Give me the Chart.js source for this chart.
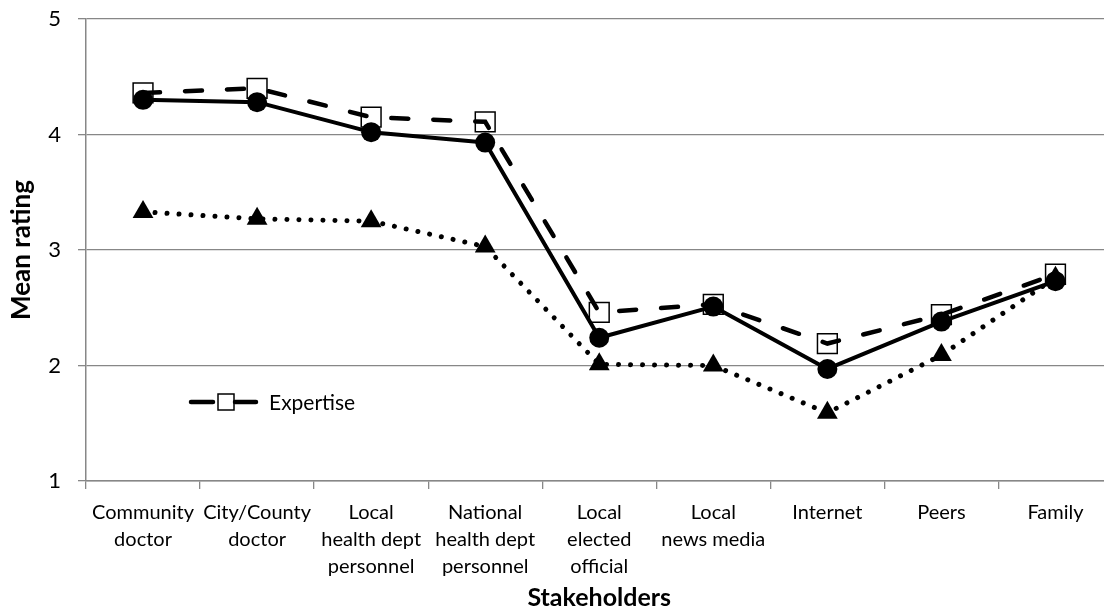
<!DOCTYPE html>
<html>
<head>
<meta charset="utf-8">
<script src="https://cdn.jsdelivr.net/npm/chart.js@4.4.0/dist/chart.umd.min.js"></script>
<style>
  html, body { margin: 0; padding: 0; background: #fff; overflow: hidden; }
  #wrap { position: relative; width: 1128px; height: 616px; }
</style>
</head>
<body>
<div id="wrap"><canvas id="chart"></canvas></div>
<script>
const stakeholders = [
  ['Community', 'doctor'],
  ['City/County', 'doctor'],
  ['Local', 'health dept', 'personnel'],
  ['National', 'health dept', 'personnel'],
  ['Local', 'elected', 'official'],
  ['Local', 'news media'],
  'Internet',
  'Peers',
  'Family'
];
const expertise = [4.36, 4.40, 4.15, 4.11, 2.46, 2.53, 2.19, 2.44, 2.79];
const trust = [4.30, 4.28, 4.02, 3.93, 2.24, 2.51, 1.97, 2.38, 2.73];
const influence = [3.33, 3.27, 3.25, 3.03, 2.01, 2.00, 1.59, 2.09, 2.76];

const FONT = 'Lato, "Open Sans", sans-serif';
const GRID = '#878787';

// legend drawn inside the plot, like the original
const insideLegend = {
  id: 'insideLegend',
  afterDatasetsDraw(chart) {
    const { ctx, chartArea } = chart;
    const x0 = chartArea.left + 105;
    const y0 = chartArea.top + 383;
    ctx.save();
    ctx.strokeStyle = '#000';
    ctx.lineWidth = 4.5;
    ctx.lineCap = 'round';
    ctx.beginPath();
    ctx.moveTo(x0, y0);
    ctx.lineTo(x0 + 22, y0);
    ctx.moveTo(x0 + 44, y0);
    ctx.lineTo(x0 + 65, y0);
    ctx.stroke();
    ctx.lineWidth = 1.5;
    ctx.strokeRect(x0 + 27, y0 - 8, 16, 16);
    ctx.fillStyle = '#000';
    ctx.font = '21px ' + FONT;
    ctx.textBaseline = 'middle';
    ctx.fillText('Expertise', x0 + 78, y0 + 1);
    ctx.restore();
  }
};

new Chart(document.getElementById('chart'), {
  type: 'line',
  data: {
    labels: stakeholders,
    datasets: [
      {
        label: 'Trust',
        data: trust,
        order: 0,
        borderColor: '#000',
        borderWidth: 4,
        borderJoinStyle: 'round',
        pointStyle: 'circle',
        pointRadius: 10,
        pointBackgroundColor: '#000',
        pointBorderColor: '#000',
        pointBorderWidth: 0,
        tension: 0
      },
      {
        label: 'Expertise',
        data: expertise,
        order: 1,
        borderColor: '#000',
        borderWidth: 4.5,
        borderDash: [17, 25],
        borderCapStyle: 'round',
        pointStyle: 'rect',
        pointRadius: 14,
        pointBackgroundColor: 'rgba(0,0,0,0)',
        pointBorderColor: '#000',
        pointBorderWidth: 1.5,
        tension: 0
      },
      {
        label: 'Influence',
        data: influence,
        order: 2,
        borderColor: '#000',
        borderWidth: 5,
        borderDash: [0.01, 12],
        borderCapStyle: 'round',
        pointStyle: 'triangle',
        pointRadius: 12,
        pointBackgroundColor: '#000',
        pointBorderColor: '#000',
        pointBorderWidth: 0,
        tension: 0
      }
    ]
  },
  options: {
    responsive: true,
    maintainAspectRatio: false,
    animation: false,
    layout: { padding: { top: 19, left: 0, right: 0, bottom: 0 } },
    plugins: {
      legend: { display: false },
      tooltip: { enabled: false }
    },
    scales: {
      x: {
        offset: true,
        afterFit: (scale) => { scale.height = 135; },
        grid: {
          offset: true,
          drawOnChartArea: false,
          drawTicks: true,
          tickLength: 8,
          color: GRID,
          lineWidth: 1.3
        },
        border: { color: GRID, width: 1.5 },
        ticks: {
          color: '#000',
          padding: 10,
          maxRotation: 0,
          autoSkip: false,
          font: { family: FONT, size: 20, lineHeight: 1.35 }
        },
        title: {
          display: true,
          text: 'Stakeholders',
          color: '#000',
          padding: { top: 0, bottom: 3 },
          font: { family: FONT, size: 25, weight: 'bold' }
        }
      },
      y: {
        min: 1,
        max: 5,
        afterFit: (scale) => {
          scale.width = 86;
          scale.paddingTop = 0;
          scale.paddingBottom = 0;
        },
        grid: {
          color: GRID,
          lineWidth: 1.3,
          tickLength: 8
        },
        border: { color: GRID, width: 1.5 },
        ticks: {
          stepSize: 1,
          color: '#000',
          padding: 17,
          font: { family: FONT, size: 22 }
        },
        title: {
          display: true,
          text: 'Mean rating',
          color: '#000',
          padding: { top: 6, bottom: 0 },
          font: { family: FONT, size: 26, weight: 'bold' }
        }
      }
    }
  },
  plugins: [insideLegend]
});
</script>
</body>
</html>
